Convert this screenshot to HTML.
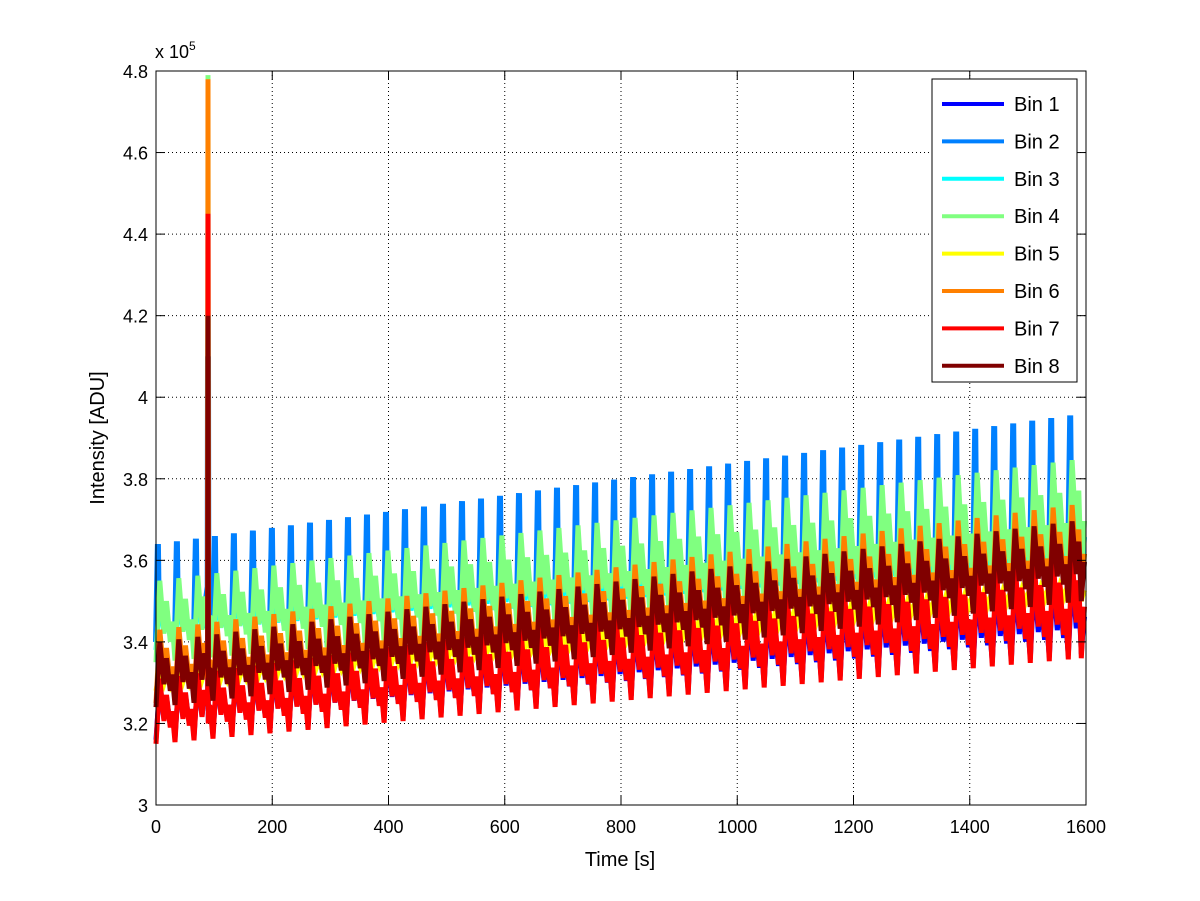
<!DOCTYPE html>
<html><head><meta charset="utf-8"><style>
body{margin:0;background:#fff}
svg{display:block;font-family:"Liberation Sans",sans-serif}
</style></head><body>
<svg width="1200" height="901">
<rect width="1200" height="901" fill="#fff"/>
<g id="grid"></g>
<g id="series"></g>
<g id="axes"></g>
<text x="155" y="58" font-size="18">x 10<tspan font-size="12" dy="-8">5</tspan></text>
<text x="620" y="866" font-size="20" text-anchor="middle">Time [s]</text>
<text transform="translate(104,438) rotate(-90)" font-size="20" text-anchor="middle">Intensity [ADU]</text>
<g id="legend"></g>
</svg>
<script>
const xTicks=[0,200,400,600,800,1000,1200,1400,1600];
const yTicks=[3,3.2,3.4,3.6,3.8,4,4.2,4.4,4.6,4.8];
const yTickLabels=["3","3.2","3.4","3.6","3.8","4","4.2","4.4","4.6","4.8"];
const binNames=["Bin 1","Bin 2","Bin 3","Bin 4","Bin 5","Bin 6","Bin 7","Bin 8"];
const colors=["#0000ff","#0080ff","#00ffff","#80ff80","#ffff00","#ff8000","#ff0000","#800000"];
const lowStart=[3.16,3.40,3.38,3.35,3.28,3.25,3.15,3.24];
const lowEnd=[3.37,3.62,3.55,3.55,3.50,3.50,3.36,3.50];
const highStart=[3.30,3.64,3.50,3.55,3.33,3.43,3.31,3.40];
const highEnd=[3.56,3.96,3.77,3.85,3.56,3.74,3.62,3.70];
const spikeValues=[4.0,4.1,4.3,4.79,4.5,4.78,4.45,4.2];
const period=32.7, spikeTime=89.5, tEnd=1592;
const X0=156,X1=1086,Y0=805,Y1=71;
const sx=t=>X0+(t-0)/(1600)*(X1-X0);
const sy=v=>Y0-(v-3)/(1.8)*(Y0-Y1);
const NS="http://www.w3.org/2000/svg";
function mk(tag,attrs,parent){const e=document.createElementNS(NS,tag);for(const k in attrs)e.setAttribute(k,attrs[k]);parent.appendChild(e);return e;}
const grid=document.getElementById('grid'),axes=document.getElementById('axes');
xTicks.forEach((t,i)=>{
  if(i>0&&i<xTicks.length-1){const l=mk('line',{x1:sx(t),x2:sx(t),y1:Y1,y2:Y0,stroke:'#000','stroke-dasharray':'1 3','stroke-width':1},grid);
  
  }
  const tk=mk('line',{x1:sx(t),x2:sx(t),y1:Y0,y2:Y0-9,stroke:'#000'},axes);
  
  
  mk('line',{x1:sx(t),x2:sx(t),y1:Y1,y2:Y1+9,stroke:'#000'},axes);
  const tx=mk('text',{x:sx(t),y:Y0+28,'font-size':18,'text-anchor':'middle'},axes);tx.textContent=t;
  
  
});
yTicks.forEach((v,i)=>{
  if(i>0&&i<yTicks.length-1){const l=mk('line',{x1:X0,x2:X1,y1:sy(v),y2:sy(v),stroke:'#000','stroke-dasharray':'1 3'},grid);
  
  }
  mk('line',{x1:X0,x2:X0+9,y1:sy(v),y2:sy(v),stroke:'#000'},axes);
  mk('line',{x1:X1,x2:X1-9,y1:sy(v),y2:sy(v),stroke:'#000'},axes);
  const tx=mk('text',{x:X0-8,y:sy(v)+7,'font-size':18,'text-anchor':'end'},axes);tx.textContent=yTickLabels[i];
  
  
});
const frame=mk('rect',{x:X0,y:Y1,width:X1-X0,height:Y0-Y1,fill:'none',stroke:'#000'},axes);


const series=document.getElementById('series');
for(let b=0;b<8;b++){
  const pts=[];
  const lo=t=>lowStart[b]+(lowEnd[b]-lowStart[b])*t/tEnd;
  const hi=t=>highStart[b]+(highEnd[b]-highStart[b])*t/tEnd;
  const mix=(t,f)=>lo(t)+(hi(t)-lo(t))*f;
  for(let t0=0;t0<tEnd;t0+=period){
    pts.push([t0,lo(t0)]);
    if(b==1){
      pts.push([t0+period*0.1,hi(t0)]);
      pts.push([t0+period*0.14,mix(t0,0.35)]);
      pts.push([t0+period*0.5,mix(t0,0.2)]);
    } else {
      pts.push([t0+period*0.2,hi(t0)]);
      pts.push([t0+period*0.42,mix(t0,0.35)]);
      pts.push([t0+period*0.55,mix(t0,0.75)]);
      pts.push([t0+period*0.75,mix(t0,0.25)]);
      pts.push([t0+period*0.85,mix(t0,0.5)]);
    }
    if(t0<spikeTime&&t0+period>spikeTime){pts.push([spikeTime-0.5,mix(spikeTime,0.5)]);pts.push([spikeTime,spikeValues[b]]);pts.push([spikeTime+0.5,mix(spikeTime,0.5)]);}
  }
  pts.push([tEnd,lo(tEnd)]);
  pts.sort((a,c)=>a[0]-c[0]);
  const p=mk('polyline',{points:pts.map(q=>sx(q[0]).toFixed(1)+','+sy(q[1]).toFixed(1)).join(' '),fill:'none',stroke:colors[b],'stroke-width':b==1?6:5,'stroke-linejoin':'miter'},series);
  
  
}
const lg=document.getElementById('legend');
const box=mk('rect',{x:932,y:79,width:145,height:303,fill:'#fff',stroke:'#000'},lg);


binNames.forEach((n,i)=>{
  const y=104+i*37.4;
  const l=mk('line',{x1:942,x2:1004,y1:y,y2:y,stroke:colors[i],'stroke-width':4},lg);
  
  
  const t=mk('text',{x:1014,y:y+7,'font-size':20},lg);t.textContent=n;
  
  
});
</script>
</body></html>
